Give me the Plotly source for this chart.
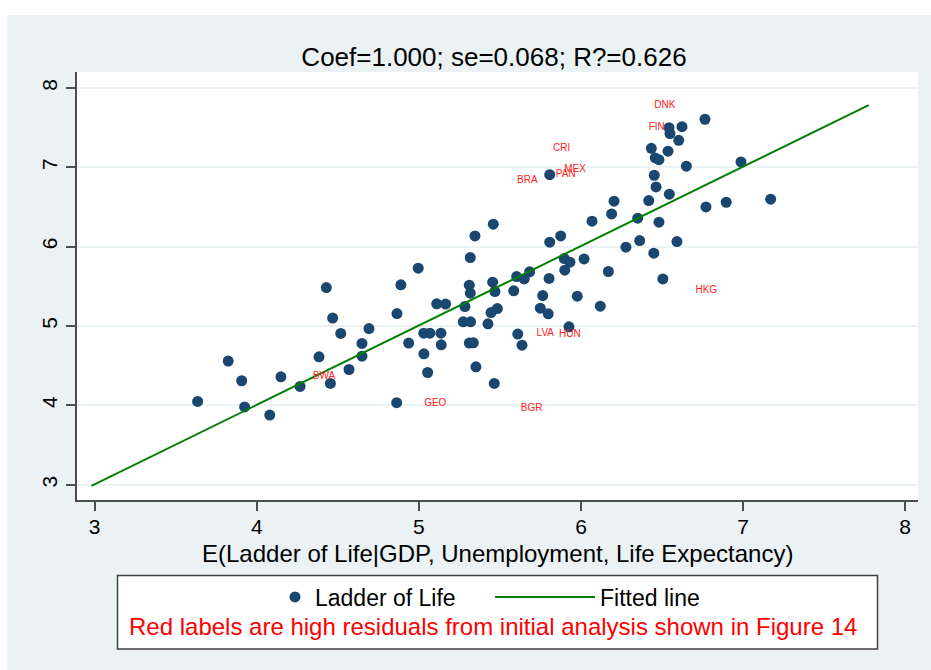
import plotly.graph_objects as go

# ---- data ----
pred_x = [3.635, 3.824, 3.907, 3.925, 4.080, 4.149, 4.267, 4.384, 4.429, 4.454,
          4.468, 4.518, 4.569, 4.649, 4.649, 4.692, 4.865, 4.863, 4.889, 4.937,
          4.996, 5.030, 5.068, 5.031, 5.054, 5.110, 5.165, 5.136, 5.138, 5.284,
          5.317, 5.311, 5.317, 5.274, 5.319, 5.311, 5.336, 5.352, 5.455, 5.469,
          5.445, 5.484, 5.426, 5.465, 5.459, 5.346,
          6.765, 6.623, 6.543, 6.549, 6.603, 6.434, 6.537, 6.458, 6.481, 6.650,
          6.987, 5.807, 6.452, 6.463, 6.545, 6.204, 6.418, 6.189, 7.170, 6.896,
          6.771, 6.068, 6.350, 6.481, 5.875, 5.807, 6.277, 6.362, 6.449, 6.592,
          5.897, 5.932, 6.019, 5.900, 6.169, 6.505, 5.603, 5.650, 5.683, 5.803,
          5.585, 5.764, 5.977, 5.749, 5.798, 6.119, 5.926, 5.610, 5.636]
ladder_y = [4.050, 4.558, 4.310, 3.980, 3.878, 4.360, 4.238, 4.612, 5.485, 4.276,
            5.100, 4.906, 4.452, 4.780, 4.620, 4.968, 5.157, 4.033, 5.519, 4.785,
            5.729, 4.910, 4.910, 4.650, 4.414, 5.280, 5.276, 4.910, 4.763, 5.246,
            5.863, 5.515, 5.414, 5.053, 5.053, 4.785, 4.788, 4.486, 5.553, 5.435,
            5.170, 5.220, 5.028, 4.276, 6.283, 6.136,
            7.606, 7.513, 7.500, 7.425, 7.341, 7.240, 7.203, 7.118, 7.097, 7.014,
            7.068, 6.908, 6.900, 6.753, 6.661, 6.573, 6.581, 6.413, 6.598, 6.560,
            6.501, 6.321, 6.359, 6.308, 6.136, 6.057, 5.994, 6.077, 5.918, 6.064,
            5.850, 5.805, 5.846, 5.704, 5.687, 5.594, 5.623, 5.594, 5.683, 5.600,
            5.443, 5.384, 5.376, 5.225, 5.154, 5.250, 4.990, 4.898, 4.759]

fit_x = [2.98, 7.775]
fit_y = [2.985, 7.785]

label_text = ["DNK", "FIN", "CRI", "MEX", "PAN", "BRA", "HKG", "LVA", "HUN", "BWA", "GEO", "BGR"]
label_x = [6.517, 6.467, 5.881, 5.963, 5.906, 5.669, 6.773, 5.780, 5.932, 4.415, 5.101, 5.696]
label_y = [7.780, 7.500, 7.235, 6.976, 6.908, 6.833, 5.452, 4.910, 4.898, 4.364, 4.024, 3.961]

x_ticks = [3, 4, 5, 6, 7, 8]
y_ticks = [3, 4, 5, 6, 7, 8]

# ---- layout geometry (pixels) ----
W, H = 931, 670
ML, MR, MT, MB = 77, 13, 72, 170
PW, PH = W - ML - MR, H - MT - MB

def px(xp):
    return (xp - ML) / PW

def py(yp):
    return (H - MB - yp) / PH

FONT = "Arial, Liberation Sans, sans-serif"
BG = "#EAF2F3"
NAVY = "#1a476f"
AX = "#4d4d4d"

fig = go.Figure()

fig.add_trace(go.Scatter(
    x=pred_x, y=ladder_y, mode="markers", name="Ladder of Life",
    marker=dict(size=11, color=NAVY, line=dict(width=0)),
    legend="legend", cliponaxis=False))

fig.add_trace(go.Scatter(
    x=fit_x, y=fit_y, mode="lines", name="Fitted line",
    line=dict(color="#008000", width=2), legend="legend2"))

fig.add_trace(go.Scatter(
    x=label_x, y=label_y, mode="text", text=label_text, showlegend=False,
    textposition="middle center",
    textfont=dict(family=FONT, size=10, color="#ff2020")))

shapes = [
    # white page strips outside the grey graph region
    dict(type="rect", xref="paper", yref="paper", layer="below",
         x0=px(0), x1=px(W), y0=py(15), y1=py(0), fillcolor="white", line=dict(width=0)),
    dict(type="rect", xref="paper", yref="paper", layer="below",
         x0=px(0), x1=px(7), y0=py(H), y1=py(0), fillcolor="white", line=dict(width=0)),
    # legend box
    dict(type="rect", xref="paper", yref="paper", layer="below",
         x0=px(117.5), x1=px(877.5), y0=py(649), y1=py(575.5),
         fillcolor="white", line=dict(color="#404040", width=1.5)),
]

fig.update_layout(
    width=W, height=H,
    margin=dict(l=ML, r=MR, t=MT, b=MB, autoexpand=False),
    paper_bgcolor=BG, plot_bgcolor="white",
    font=dict(family=FONT, color="black"),
    title=dict(text="Coef=1.000; se=0.068; R?=0.626", x=px(494), xref="paper",
               xanchor="center", y=1 - 57 / H, yref="container", yanchor="middle",
               font=dict(size=26, family=FONT, color="black")),
    xaxis=dict(range=[2.891, 8.079], tickvals=x_ticks, ticks="outside", ticklen=9,
               tickwidth=1.5, tickcolor=AX, showline=True, linecolor=AX, linewidth=1.5,
               showgrid=False, zeroline=False, ticklabelstandoff=-2,
               tickfont=dict(size=21, family=FONT, color="black"),
               automargin=False),
    yaxis=dict(range=[2.807, 8.2015], tickvals=y_ticks, ticks="outside", ticklen=9,
               tickwidth=1.5, tickcolor=AX, showline=True, linecolor=AX, linewidth=1.5,
               showgrid=True, gridcolor=BG, gridwidth=2, zeroline=False,
               tickangle=-90, ticklabelstandoff=1,
               tickfont=dict(size=21, family=FONT, color="black"),
               automargin=False),
    legend=dict(orientation="h", x=px(275), y=py(597), xanchor="left", yanchor="middle",
                bgcolor="rgba(0,0,0,0)", borderwidth=0, itemwidth=30,
                font=dict(size=23, family=FONT, color="black")),
    legend2=dict(orientation="h", x=px(490), y=py(597), xanchor="left", yanchor="middle",
                 bgcolor="rgba(0,0,0,0)", borderwidth=0, itemwidth=100,
                 font=dict(size=23, family=FONT, color="black")),
    shapes=shapes,
    annotations=[
        dict(text="E(Ladder of Life|GDP, Unemployment, Life Expectancy)",
             xref="paper", yref="paper", x=px(497.5), y=py(553.5),
             xanchor="center", yanchor="middle", showarrow=False,
             font=dict(size=24, family=FONT, color="black")),
        dict(text="Red labels are high residuals from initial analysis shown in Figure 14",
             xref="paper", yref="paper", x=px(493.4), y=py(626.7),
             xanchor="center", yanchor="middle", showarrow=False,
             font=dict(size=24, family=FONT, color="red")),
    ],
    showlegend=True,
)

fig.write_html("out.html", config={"displayModeBar": False},
               post_script="document.body.style.margin='0';")
